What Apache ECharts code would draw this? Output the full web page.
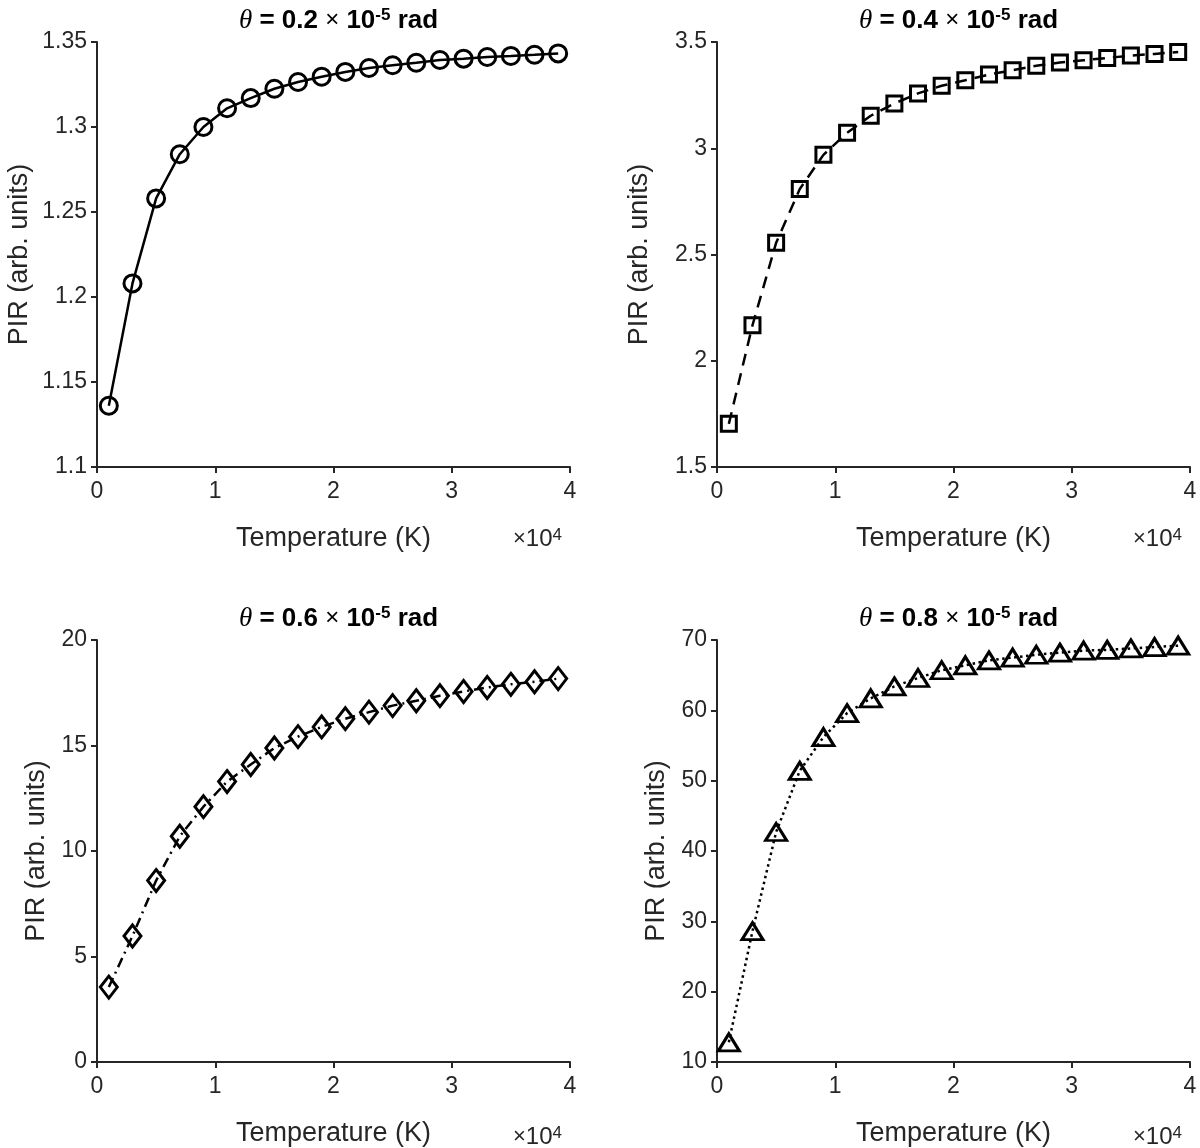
<!DOCTYPE html>
<html>
<head>
<meta charset="utf-8">
<script src="https://cdn.jsdelivr.net/npm/echarts@6/dist/echarts.min.js"></script>
<style>
  html, body { margin: 0; padding: 0; background: #fff; }
  #main { width: 1200px; height: 1148px; }
</style>
</head>
<body>
<div id="main"></div>
<script>
// temperature, in units of 10^4 K
const temps = [0.1, 0.3, 0.5, 0.7, 0.9, 1.1, 1.3, 1.5, 1.7, 1.9, 2.1, 2.3, 2.5, 2.7, 2.9, 3.1, 3.3, 3.5, 3.7, 3.9];

// PIR values for each angle
const pir02 = [1.136, 1.208, 1.258, 1.284, 1.300, 1.311, 1.317, 1.3225, 1.3265, 1.3296, 1.3324, 1.3347, 1.3363, 1.3378, 1.3394, 1.3402, 1.3412, 1.3418, 1.3425, 1.3433];
const pir04 = [1.703, 2.167, 2.555, 2.808, 2.969, 3.073, 3.153, 3.211, 3.258, 3.294, 3.320, 3.347, 3.367, 3.388, 3.403, 3.414, 3.425, 3.436, 3.444, 3.453];
const pir06 = [3.55, 5.97, 8.60, 10.70, 12.10, 13.29, 14.10, 14.88, 15.42, 15.88, 16.27, 16.58, 16.89, 17.12, 17.36, 17.56, 17.75, 17.90, 18.02, 18.17];
const pir08 = [12.8, 28.6, 42.7, 51.4, 56.2, 59.6, 61.7, 63.4, 64.6, 65.7, 66.4, 67.1, 67.5, 67.9, 68.2, 68.5, 68.6, 68.8, 69.0, 69.2];

const thetaLabels = ['0.2', '0.4', '0.6', '0.8'];
const xTicks = { min: 0, max: 4, interval: 1 };
const yRanges = [
    { min: 1.1, max: 1.35, interval: 0.05 },
    { min: 1.5, max: 3.5, interval: 0.5 },
    { min: 0, max: 20, interval: 5 },
    { min: 10, max: 70, interval: 10 }
];

document.addEventListener('DOMContentLoaded', function () {
    initChart();
});

function initChart() {
    const chart = echarts.init(document.getElementById('main'));
    const font = 'Liberation Sans, Arial, Helvetica, sans-serif';
    const axisColor = '#262626';

    // panel boxes
    const panels = [
        { left: 97, top: 42, width: 473, height: 425 },
        { left: 717, top: 42, width: 473, height: 425 },
        { left: 97, top: 640, width: 473, height: 425 },
        { left: 717, top: 640, width: 473, height: 425 }
    ];
    const yNameGaps = [64, 64, 47, 47];

    const seriesData = [pir02, pir04, pir06, pir08];
    const markers = [
        { symbol: 'circle', size: 17 },
        { symbol: 'rect', size: 15 },
        { symbol: 'diamond', size: [17, 22] },
        { symbol: 'triangle', size: [21, 17] }
    ];
    const lineTypes = ['solid', [12, 8], [10, 5, 2, 5], [2.5, 3.5]];

    const titles = panels.map(function (p, i) {
        return {
            text: '{th|θ} = ' + thetaLabels[i] + ' {x|×} 10{sup|-5} rad',
            left: p.left + p.width / 2,
            top: p.top - 40,
            textAlign: 'center',
            textStyle: {
                fontFamily: font,
                fontWeight: 'bold',
                fontSize: 26,
                color: '#000',
                rich: {
                    th: { fontFamily: 'Liberation Serif, serif', fontStyle: 'italic', fontWeight: 'normal', fontSize: 27, color: '#000' },
                    x: { fontFamily: font, fontWeight: 'normal', fontSize: 24, color: '#000' },
                    sup: { fontFamily: font, fontWeight: 'bold', fontSize: 17, color: '#000', verticalAlign: 'top' }
                }
            }
        };
    });

    const grids = panels.map(function (p) {
        return { left: p.left, top: p.top, width: p.width, height: p.height };
    });

    const xAxes = panels.map(function (p, i) {
        return {
            type: 'value',
            gridIndex: i,
            min: xTicks.min,
            max: xTicks.max,
            interval: xTicks.interval,
            name: 'Temperature (K)',
            nameLocation: 'middle',
            nameGap: 58,
            nameTextStyle: { fontFamily: font, fontSize: 27, color: axisColor },
            axisLine: { lineStyle: { color: axisColor, width: 2 } },
            axisTick: { length: 6, lineStyle: { color: axisColor, width: 2 } },
            axisLabel: { fontFamily: font, fontSize: 23, color: axisColor, margin: 13 },
            splitLine: { show: false }
        };
    });

    const yAxes = panels.map(function (p, i) {
        return {
            type: 'value',
            gridIndex: i,
            min: yRanges[i].min,
            max: yRanges[i].max,
            interval: yRanges[i].interval,
            name: 'PIR (arb. units)',
            nameLocation: 'middle',
            nameGap: yNameGaps[i],
            nameTextStyle: { fontFamily: font, fontSize: 27, color: axisColor },
            axisLine: { show: true, lineStyle: { color: axisColor, width: 2 } },
            axisTick: { show: true, length: 6, lineStyle: { color: axisColor, width: 2 } },
            axisLabel: { fontFamily: font, fontSize: 23, color: axisColor, margin: 10 },
            splitLine: { show: false }
        };
    });

    const series = seriesData.map(function (vals, i) {
        return {
            type: 'line',
            xAxisIndex: i,
            yAxisIndex: i,
            data: temps.map(function (t, k) { return [t, vals[k]]; }),
            symbol: markers[i].symbol,
            symbolSize: markers[i].size,
            showAllSymbol: true,
            lineStyle: { color: '#000', width: 2.5, type: lineTypes[i] },
            itemStyle: { color: 'rgba(0,0,0,0)', borderColor: '#000', borderWidth: 3 },
            emphasis: { disabled: true },
            animation: false
        };
    });

    // x10^4 exponent labels
    const graphics = panels.map(function (p) {
        return {
            type: 'text',
            left: p.left + p.width - 57,
            top: p.top + p.height + 60,
            style: {
                text: '{x|×}10{sup|4}',
                fontFamily: font,
                fontSize: 24,
                fill: axisColor,
                rich: {
                    x: { fontFamily: font, fontSize: 22, color: axisColor },
                    sup: { fontFamily: font, fontSize: 17, color: axisColor, verticalAlign: 'top' }
                }
            }
        };
    });

    chart.setOption({
        backgroundColor: '#fff',
        animation: false,
        title: titles,
        grid: grids,
        xAxis: xAxes,
        yAxis: yAxes,
        series: series,
        graphic: graphics
    });
}
</script>
</body>
</html>
